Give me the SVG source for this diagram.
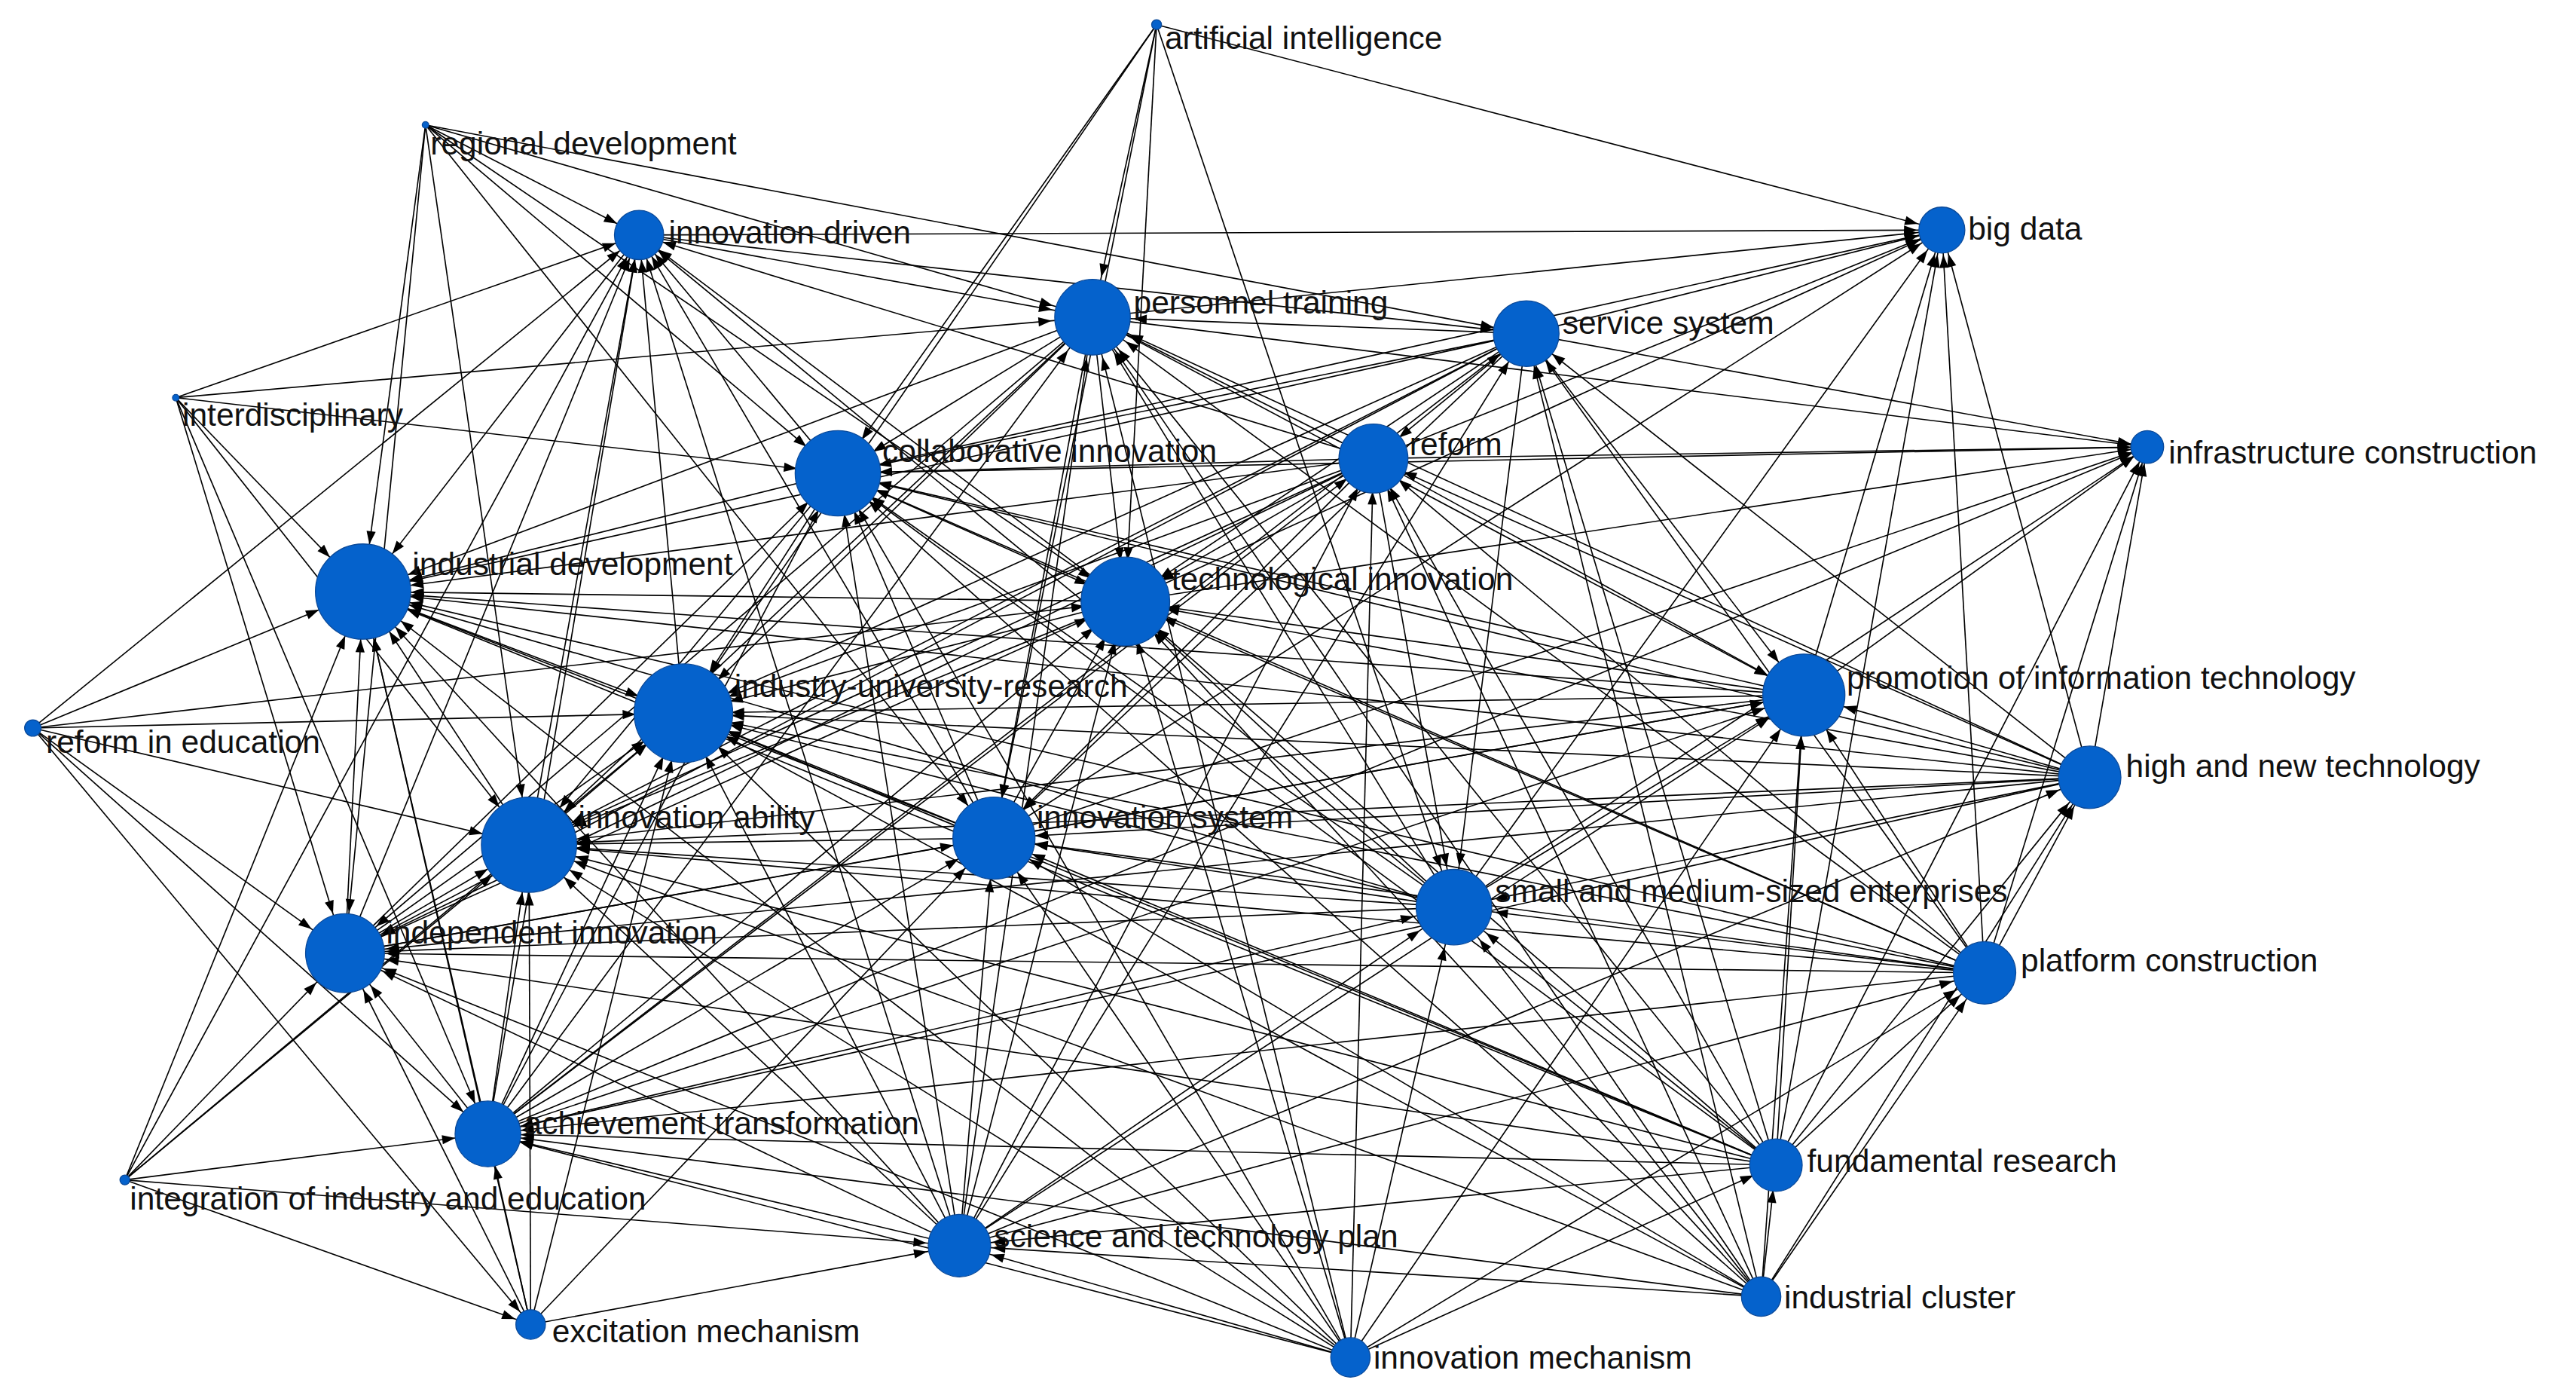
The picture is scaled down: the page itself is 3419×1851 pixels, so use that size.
<svg xmlns="http://www.w3.org/2000/svg" width="3419" height="1851" viewBox="0 0 3419 1851">
<style>
line{stroke:#000;stroke-width:.75}
.t3{marker-end:url(#a3)}.t10{marker-end:url(#a10)}.t15{marker-end:url(#a15)}.t20{marker-end:url(#a20)}.t25{marker-end:url(#a25)}.t30{marker-end:url(#a30)}
circle{fill:#0562cc;stroke:#0b4a9a;stroke-width:.6}
text{font-family:"Liberation Sans",Arial,sans-serif;font-size:19.5px;fill:#111}
</style>
<defs>
<marker id="a3" markerUnits="userSpaceOnUse" orient="auto" refX="11" refY="0" markerWidth="12" markerHeight="8" overflow="visible"><path d="M0,-2.8L8,0L0,2.8z"/></marker>
<marker id="a10" markerUnits="userSpaceOnUse" orient="auto" refX="18" refY="0" markerWidth="12" markerHeight="8" overflow="visible"><path d="M0,-2.8L8,0L0,2.8z"/></marker>
<marker id="a15" markerUnits="userSpaceOnUse" orient="auto" refX="23" refY="0" markerWidth="12" markerHeight="8" overflow="visible"><path d="M0,-2.8L8,0L0,2.8z"/></marker>
<marker id="a20" markerUnits="userSpaceOnUse" orient="auto" refX="28" refY="0" markerWidth="12" markerHeight="8" overflow="visible"><path d="M0,-2.8L8,0L0,2.8z"/></marker>
<marker id="a25" markerUnits="userSpaceOnUse" orient="auto" refX="33" refY="0" markerWidth="12" markerHeight="8" overflow="visible"><path d="M0,-2.8L8,0L0,2.8z"/></marker>
<marker id="a30" markerUnits="userSpaceOnUse" orient="auto" refX="37" refY="0" markerWidth="12" markerHeight="8" overflow="visible"><path d="M0,-2.8L8,0L0,2.8z"/></marker>
</defs>
<rect width="3419" height="1851" fill="#fff"/>
<g transform="scale(2.1805)">
<g id="connectors">
<line class="t30" x1="221" y1="360" x2="416" y2="434"/>
<line class="t30" x1="322" y1="514" x2="416" y2="434"/><line class="t30" x1="322" y1="514" x2="221" y2="360"/>
<line class="t30" x1="685" y1="366" x2="416" y2="434"/><line class="t30" x1="685" y1="366" x2="221" y2="360"/><line class="t30" x1="685" y1="366" x2="322" y2="514"/>
<line class="t30" x1="510" y1="288" x2="416" y2="434"/><line class="t30" x1="510" y1="288" x2="221" y2="360"/><line class="t30" x1="510" y1="288" x2="322" y2="514"/><line class="t25" x1="510" y1="288" x2="685" y2="366"/>
<line class="t30" x1="1098" y1="423" x2="416" y2="434"/><line class="t30" x1="1098" y1="423" x2="221" y2="360"/><line class="t30" x1="1098" y1="423" x2="322" y2="514"/><line class="t25" x1="1098" y1="423" x2="685" y2="366"/><line class="t25" x1="1098" y1="423" x2="510" y2="288"/>
<line class="t30" x1="605" y1="510" x2="416" y2="434"/><line class="t30" x1="605" y1="510" x2="221" y2="360"/><line class="t30" x1="605" y1="510" x2="322" y2="514"/><line class="t25" x1="605" y1="510" x2="685" y2="366"/><line class="t25" x1="605" y1="510" x2="510" y2="288"/><line class="t25" x1="605" y1="510" x2="1098" y2="423"/>
<line class="t30" x1="210" y1="580" x2="416" y2="434"/><line class="t30" x1="210" y1="580" x2="221" y2="360"/><line class="t30" x1="210" y1="580" x2="322" y2="514"/><line class="t25" x1="210" y1="580" x2="685" y2="366"/><line class="t25" x1="210" y1="580" x2="510" y2="288"/><line class="t25" x1="210" y1="580" x2="1098" y2="423"/><line class="t25" x1="210" y1="580" x2="605" y2="510"/>
<line class="t30" x1="665" y1="193" x2="416" y2="434"/><line class="t30" x1="665" y1="193" x2="221" y2="360"/><line class="t30" x1="665" y1="193" x2="322" y2="514"/><line class="t25" x1="665" y1="193" x2="685" y2="366"/><line class="t25" x1="665" y1="193" x2="510" y2="288"/><line class="t25" x1="665" y1="193" x2="1098" y2="423"/><line class="t25" x1="665" y1="193" x2="605" y2="510"/><line class="t25" x1="665" y1="193" x2="210" y2="580"/>
<line class="t30" x1="885" y1="552" x2="416" y2="434"/><line class="t30" x1="885" y1="552" x2="221" y2="360"/><line class="t30" x1="885" y1="552" x2="322" y2="514"/><line class="t25" x1="885" y1="552" x2="685" y2="366"/><line class="t25" x1="885" y1="552" x2="510" y2="288"/><line class="t25" x1="885" y1="552" x2="1098" y2="423"/><line class="t25" x1="885" y1="552" x2="605" y2="510"/><line class="t25" x1="885" y1="552" x2="210" y2="580"/><line class="t25" x1="885" y1="552" x2="665" y2="193"/>
<line class="t30" x1="836" y1="279" x2="416" y2="434"/><line class="t30" x1="836" y1="279" x2="221" y2="360"/><line class="t30" x1="836" y1="279" x2="322" y2="514"/><line class="t25" x1="836" y1="279" x2="685" y2="366"/><line class="t25" x1="836" y1="279" x2="510" y2="288"/><line class="t25" x1="836" y1="279" x2="1098" y2="423"/><line class="t25" x1="836" y1="279" x2="605" y2="510"/><line class="t25" x1="836" y1="279" x2="210" y2="580"/><line class="t25" x1="836" y1="279" x2="665" y2="193"/><line class="t25" x1="836" y1="279" x2="885" y2="552"/>
<line class="t30" x1="929" y1="203" x2="416" y2="434"/><line class="t30" x1="929" y1="203" x2="221" y2="360"/><line class="t30" x1="929" y1="203" x2="322" y2="514"/><line class="t25" x1="929" y1="203" x2="685" y2="366"/><line class="t25" x1="929" y1="203" x2="510" y2="288"/><line class="t25" x1="929" y1="203" x2="1098" y2="423"/><line class="t25" x1="929" y1="203" x2="605" y2="510"/><line class="t25" x1="929" y1="203" x2="210" y2="580"/><line class="t25" x1="929" y1="203" x2="665" y2="193"/><line class="t25" x1="929" y1="203" x2="885" y2="552"/><line class="t20" x1="929" y1="203" x2="836" y2="279"/>
<line class="t30" x1="297" y1="690" x2="416" y2="434"/><line class="t30" x1="297" y1="690" x2="221" y2="360"/><line class="t30" x1="297" y1="690" x2="322" y2="514"/><line class="t25" x1="297" y1="690" x2="685" y2="366"/><line class="t25" x1="297" y1="690" x2="510" y2="288"/><line class="t25" x1="297" y1="690" x2="1098" y2="423"/><line class="t25" x1="297" y1="690" x2="605" y2="510"/><line class="t25" x1="297" y1="690" x2="210" y2="580"/><line class="t25" x1="297" y1="690" x2="665" y2="193"/><line class="t25" x1="297" y1="690" x2="885" y2="552"/><line class="t20" x1="297" y1="690" x2="836" y2="279"/><line class="t20" x1="297" y1="690" x2="929" y2="203"/>
<line class="t30" x1="1272" y1="473" x2="416" y2="434"/><line class="t30" x1="1272" y1="473" x2="221" y2="360"/><line class="t30" x1="1272" y1="473" x2="322" y2="514"/><line class="t25" x1="1272" y1="473" x2="685" y2="366"/><line class="t25" x1="1272" y1="473" x2="510" y2="288"/><line class="t25" x1="1272" y1="473" x2="1098" y2="423"/><line class="t25" x1="1272" y1="473" x2="605" y2="510"/><line class="t25" x1="1272" y1="473" x2="210" y2="580"/><line class="t25" x1="1272" y1="473" x2="665" y2="193"/><line class="t25" x1="1272" y1="473" x2="885" y2="552"/><line class="t20" x1="1272" y1="473" x2="836" y2="279"/><line class="t20" x1="1272" y1="473" x2="929" y2="203"/><line class="t20" x1="1272" y1="473" x2="297" y2="690"/>
<line class="t30" x1="1208" y1="592" x2="416" y2="434"/><line class="t30" x1="1208" y1="592" x2="221" y2="360"/><line class="t30" x1="1208" y1="592" x2="322" y2="514"/><line class="t25" x1="1208" y1="592" x2="685" y2="366"/><line class="t25" x1="1208" y1="592" x2="510" y2="288"/><line class="t25" x1="1208" y1="592" x2="1098" y2="423"/><line class="t25" x1="1208" y1="592" x2="605" y2="510"/><line class="t25" x1="1208" y1="592" x2="210" y2="580"/><line class="t25" x1="1208" y1="592" x2="665" y2="193"/><line class="t25" x1="1208" y1="592" x2="885" y2="552"/><line class="t20" x1="1208" y1="592" x2="836" y2="279"/><line class="t20" x1="1208" y1="592" x2="929" y2="203"/><line class="t20" x1="1208" y1="592" x2="297" y2="690"/><line class="t20" x1="1208" y1="592" x2="1272" y2="473"/>
<line class="t30" x1="584" y1="758" x2="416" y2="434"/><line class="t30" x1="584" y1="758" x2="221" y2="360"/><line class="t30" x1="584" y1="758" x2="322" y2="514"/><line class="t25" x1="584" y1="758" x2="685" y2="366"/><line class="t25" x1="584" y1="758" x2="510" y2="288"/><line class="t25" x1="584" y1="758" x2="1098" y2="423"/><line class="t25" x1="584" y1="758" x2="605" y2="510"/><line class="t25" x1="584" y1="758" x2="210" y2="580"/><line class="t25" x1="584" y1="758" x2="665" y2="193"/><line class="t25" x1="584" y1="758" x2="885" y2="552"/><line class="t20" x1="584" y1="758" x2="836" y2="279"/><line class="t20" x1="584" y1="758" x2="929" y2="203"/><line class="t20" x1="584" y1="758" x2="297" y2="690"/><line class="t20" x1="584" y1="758" x2="1272" y2="473"/><line class="t20" x1="584" y1="758" x2="1208" y2="592"/>
<line class="t30" x1="1081" y1="709" x2="416" y2="434"/><line class="t30" x1="1081" y1="709" x2="221" y2="360"/><line class="t30" x1="1081" y1="709" x2="322" y2="514"/><line class="t25" x1="1081" y1="709" x2="685" y2="366"/><line class="t25" x1="1081" y1="709" x2="510" y2="288"/><line class="t25" x1="1081" y1="709" x2="1098" y2="423"/><line class="t25" x1="1081" y1="709" x2="605" y2="510"/><line class="t25" x1="1081" y1="709" x2="210" y2="580"/><line class="t25" x1="1081" y1="709" x2="665" y2="193"/><line class="t25" x1="1081" y1="709" x2="885" y2="552"/><line class="t20" x1="1081" y1="709" x2="836" y2="279"/><line class="t20" x1="1081" y1="709" x2="929" y2="203"/><line class="t20" x1="1081" y1="709" x2="297" y2="690"/><line class="t20" x1="1081" y1="709" x2="1272" y2="473"/><line class="t20" x1="1081" y1="709" x2="1208" y2="592"/><line class="t20" x1="1081" y1="709" x2="584" y2="758"/>
<line class="t30" x1="1072" y1="789" x2="416" y2="434"/><line class="t30" x1="1072" y1="789" x2="322" y2="514"/><line class="t25" x1="1072" y1="789" x2="685" y2="366"/><line class="t25" x1="1072" y1="789" x2="510" y2="288"/><line class="t25" x1="1072" y1="789" x2="1098" y2="423"/><line class="t25" x1="1072" y1="789" x2="605" y2="510"/><line class="t25" x1="1072" y1="789" x2="885" y2="552"/><line class="t20" x1="1072" y1="789" x2="1208" y2="592"/><line class="t15" x1="1072" y1="789" x2="1081" y2="709"/><line class="t20" x1="1072" y1="789" x2="584" y2="758"/><line class="t20" x1="1072" y1="789" x2="297" y2="690"/><line class="t25" x1="1072" y1="789" x2="665" y2="193"/><line class="t20" x1="1072" y1="789" x2="836" y2="279"/><line class="t20" x1="1072" y1="789" x2="929" y2="203"/><line class="t20" x1="1072" y1="789" x2="1272" y2="473"/>
<line class="t30" x1="822" y1="826" x2="416" y2="434"/><line class="t30" x1="822" y1="826" x2="221" y2="360"/><line class="t30" x1="822" y1="826" x2="322" y2="514"/><line class="t25" x1="822" y1="826" x2="685" y2="366"/><line class="t25" x1="822" y1="826" x2="510" y2="288"/><line class="t25" x1="822" y1="826" x2="605" y2="510"/><line class="t25" x1="822" y1="826" x2="885" y2="552"/><line class="t20" x1="822" y1="826" x2="1208" y2="592"/><line class="t15" x1="822" y1="826" x2="1081" y2="709"/><line class="t20" x1="822" y1="826" x2="584" y2="758"/><line class="t25" x1="822" y1="826" x2="665" y2="193"/><line class="t20" x1="822" y1="826" x2="836" y2="279"/><line class="t20" x1="822" y1="826" x2="297" y2="690"/><line class="t25" x1="822" y1="826" x2="1098" y2="423"/><line class="t25" x1="822" y1="826" x2="210" y2="580"/>
<line class="t30" x1="323" y1="806" x2="416" y2="434"/><line class="t30" x1="323" y1="806" x2="322" y2="514"/><line class="t25" x1="323" y1="806" x2="210" y2="580"/><line class="t20" x1="323" y1="806" x2="297" y2="690"/><line class="t20" x1="323" y1="806" x2="584" y2="758"/><line class="t30" x1="323" y1="806" x2="221" y2="360"/><line class="t25" x1="323" y1="806" x2="605" y2="510"/>
<line class="t25" x1="704" y1="15" x2="665" y2="193"/><line class="t25" x1="704" y1="15" x2="510" y2="288"/><line class="t25" x1="704" y1="15" x2="685" y2="366"/><line class="t30" x1="704" y1="15" x2="416" y2="434"/><line class="t25" x1="704" y1="15" x2="605" y2="510"/><line class="t15" x1="704" y1="15" x2="1182" y2="140"/><line class="t25" x1="704" y1="15" x2="885" y2="552"/>
<line class="t15" x1="259" y1="76" x2="389" y2="143"/><line class="t30" x1="259" y1="76" x2="221" y2="360"/><line class="t30" x1="259" y1="76" x2="322" y2="514"/><line class="t25" x1="259" y1="76" x2="210" y2="580"/><line class="t25" x1="259" y1="76" x2="510" y2="288"/><line class="t25" x1="259" y1="76" x2="685" y2="366"/><line class="t25" x1="259" y1="76" x2="665" y2="193"/><line class="t20" x1="259" y1="76" x2="929" y2="203"/><line class="t25" x1="259" y1="76" x2="605" y2="510"/>
<line class="t30" x1="107" y1="242" x2="221" y2="360"/><line class="t25" x1="107" y1="242" x2="210" y2="580"/><line class="t30" x1="107" y1="242" x2="322" y2="514"/><line class="t20" x1="107" y1="242" x2="297" y2="690"/><line class="t15" x1="107" y1="242" x2="389" y2="143"/><line class="t25" x1="107" y1="242" x2="665" y2="193"/><line class="t25" x1="107" y1="242" x2="510" y2="288"/>
<line class="t30" x1="20" y1="443" x2="221" y2="360"/><line class="t30" x1="20" y1="443" x2="416" y2="434"/><line class="t30" x1="20" y1="443" x2="322" y2="514"/><line class="t25" x1="20" y1="443" x2="210" y2="580"/><line class="t20" x1="20" y1="443" x2="297" y2="690"/><line class="t10" x1="20" y1="443" x2="323" y2="806"/><line class="t15" x1="20" y1="443" x2="389" y2="143"/><line class="t25" x1="20" y1="443" x2="685" y2="366"/>
<line class="t30" x1="76" y1="718" x2="221" y2="360"/><line class="t25" x1="76" y1="718" x2="210" y2="580"/><line class="t30" x1="76" y1="718" x2="322" y2="514"/><line class="t20" x1="76" y1="718" x2="297" y2="690"/><line class="t10" x1="76" y1="718" x2="323" y2="806"/><line class="t20" x1="76" y1="718" x2="584" y2="758"/><line class="t30" x1="76" y1="718" x2="416" y2="434"/><line class="t15" x1="76" y1="718" x2="389" y2="143"/>
<line class="t15" x1="389" y1="143" x2="1182" y2="140"/><line class="t25" x1="389" y1="143" x2="665" y2="193"/><line class="t20" x1="389" y1="143" x2="929" y2="203"/><line class="t30" x1="389" y1="143" x2="221" y2="360"/><line class="t15" x1="510" y1="288" x2="389" y2="143"/><line class="t15" x1="416" y1="434" x2="389" y2="143"/><line class="t15" x1="322" y1="514" x2="389" y2="143"/><line class="t15" x1="210" y1="580" x2="389" y2="143"/><line class="t15" x1="297" y1="690" x2="389" y2="143"/><line class="t15" x1="685" y1="366" x2="389" y2="143"/><line class="t15" x1="605" y1="510" x2="389" y2="143"/><line class="t15" x1="584" y1="758" x2="389" y2="143"/><line class="t15" x1="885" y1="552" x2="389" y2="143"/><line class="t15" x1="836" y1="279" x2="389" y2="143"/>
<line class="t15" x1="665" y1="193" x2="1182" y2="140"/><line class="t15" x1="929" y1="203" x2="1182" y2="140"/><line class="t15" x1="836" y1="279" x2="1182" y2="140"/><line class="t15" x1="685" y1="366" x2="1182" y2="140"/><line class="t15" x1="1098" y1="423" x2="1182" y2="140"/><line class="t15" x1="510" y1="288" x2="1182" y2="140"/><line class="t15" x1="1272" y1="473" x2="1182" y2="140"/><line class="t15" x1="1208" y1="592" x2="1182" y2="140"/><line class="t15" x1="885" y1="552" x2="1182" y2="140"/><line class="t15" x1="605" y1="510" x2="1182" y2="140"/><line class="t15" x1="1081" y1="709" x2="1182" y2="140"/>
<line class="t10" x1="665" y1="193" x2="1307" y2="272"/><line class="t10" x1="929" y1="203" x2="1307" y2="272"/><line class="t10" x1="836" y1="279" x2="1307" y2="272"/><line class="t10" x1="685" y1="366" x2="1307" y2="272"/><line class="t10" x1="1098" y1="423" x2="1307" y2="272"/><line class="t10" x1="1272" y1="473" x2="1307" y2="272"/><line class="t10" x1="885" y1="552" x2="1307" y2="272"/><line class="t10" x1="297" y1="690" x2="1307" y2="272"/><line class="t10" x1="605" y1="510" x2="1307" y2="272"/><line class="t10" x1="510" y1="288" x2="1307" y2="272"/><line class="t10" x1="1081" y1="709" x2="1307" y2="272"/><line class="t10" x1="1208" y1="592" x2="1307" y2="272"/>
</g>
<g id="n-ai"><circle cx="704" cy="15" r="3"/><text x="709" y="30">artificial intelligence</text></g>
<g id="n-rd"><circle cx="259" cy="76" r="2"/><text x="262" y="94">regional development</text></g>
<g id="n-id"><circle cx="389" cy="143" r="15"/><text x="407" y="148">innovation driven</text></g>
<g id="n-bd"><circle cx="1182" cy="140" r="14"/><text x="1198" y="146">big data</text></g>
<g id="n-pt"><circle cx="665" cy="193" r="23"/><text x="690" y="191">personnel training</text></g>
<g id="n-ss"><circle cx="929" cy="203" r="20"/><text x="951" y="203">service system</text></g>
<g id="n-in"><circle cx="107" cy="242" r="2"/><text x="111" y="259">interdisciplinary</text></g>
<g id="n-ci"><circle cx="510" cy="288" r="26"/><text x="537" y="281">collaborative innovation</text></g>
<g id="n-rf"><circle cx="836" cy="279" r="21"/><text x="858" y="277">reform</text></g>
<g id="n-ic"><circle cx="1307" cy="272" r="10"/><text x="1320" y="282">infrastructure construction</text></g>
<g id="n-dv"><circle cx="221" cy="360" r="29"/><text x="251" y="350">industrial development</text></g>
<g id="n-ti"><circle cx="685" cy="366" r="27"/><text x="713" y="359">technological innovation</text></g>
<g id="n-iur"><circle cx="416" cy="434" r="30"/><text x="447" y="424">industry-university-research</text></g>
<g id="n-pit"><circle cx="1098" cy="423" r="25"/><text x="1124" y="419">promotion of information technology</text></g>
<g id="n-re"><circle cx="20" cy="443" r="5"/><text x="28" y="458">reform in education</text></g>
<g id="n-hnt"><circle cx="1272" cy="473" r="19"/><text x="1294" y="473">high and new technology</text></g>
<g id="n-ia"><circle cx="322" cy="514" r="29"/><text x="352" y="504">innovation ability</text></g>
<g id="n-is"><circle cx="605" cy="510" r="25"/><text x="631" y="504">innovation system</text></g>
<g id="n-sme"><circle cx="885" cy="552" r="23"/><text x="910" y="549">small and medium-sized enterprises</text></g>
<g id="n-ii"><circle cx="210" cy="580" r="24"/><text x="235" y="574">independent innovation</text></g>
<g id="n-pc"><circle cx="1208" cy="592" r="19"/><text x="1230" y="591">platform construction</text></g>
<g id="n-at"><circle cx="297" cy="690" r="20"/><text x="319" y="690">achievement transformation</text></g>
<g id="n-fr"><circle cx="1081" cy="709" r="16"/><text x="1100" y="713">fundamental research</text></g>
<g id="n-iie"><circle cx="76" cy="718" r="3"/><text x="79" y="736">integration of industry and education</text></g>
<g id="n-stp"><circle cx="584" cy="758" r="19"/><text x="605" y="759">science and technology plan</text></g>
<g id="n-icl"><circle cx="1072" cy="789" r="12"/><text x="1086" y="796">industrial cluster</text></g>
<g id="n-em"><circle cx="323" cy="806" r="9"/><text x="336" y="817">excitation mechanism</text></g>
<g id="n-im"><circle cx="822" cy="826" r="12"/><text x="836" y="833">innovation mechanism</text></g>
</g>
</svg>
